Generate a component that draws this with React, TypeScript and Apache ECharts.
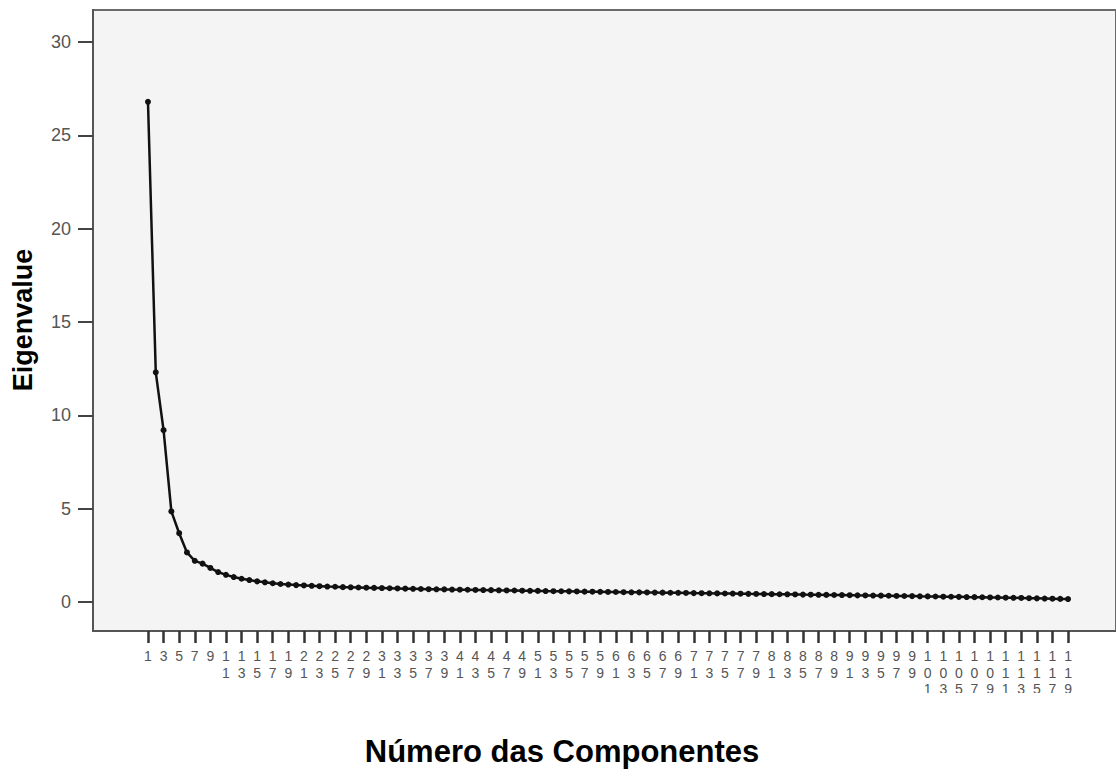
import React, { useEffect, useRef } from "react";
import * as echarts from "echarts";

const eigenvalues: number[] = [
  26.8, 12.3, 9.2, 4.85, 3.68, 2.65, 2.2, 2.05, 1.82, 1.6,
  1.45, 1.33, 1.24, 1.17, 1.1, 1.05, 1.0, 0.96, 0.93, 0.9,
  0.88, 0.86, 0.84, 0.82, 0.81, 0.79, 0.78, 0.77, 0.76, 0.75,
  0.74, 0.73, 0.72, 0.71, 0.7, 0.69, 0.68, 0.675, 0.67, 0.66,
  0.655, 0.65, 0.64, 0.635, 0.63, 0.62, 0.615, 0.61, 0.6, 0.595,
  0.59, 0.58, 0.575, 0.57, 0.565, 0.56, 0.55, 0.545, 0.54, 0.535,
  0.53, 0.52, 0.515, 0.51, 0.505, 0.5, 0.495, 0.49, 0.485, 0.48,
  0.47, 0.465, 0.46, 0.455, 0.45, 0.445, 0.44, 0.43, 0.425, 0.42,
  0.415, 0.41, 0.405, 0.4, 0.39, 0.385, 0.38, 0.375, 0.37, 0.365,
  0.36, 0.35, 0.345, 0.34, 0.335, 0.33, 0.32, 0.315, 0.31, 0.3,
  0.295, 0.29, 0.28, 0.275, 0.27, 0.26, 0.255, 0.25, 0.24, 0.235,
  0.225, 0.22, 0.21, 0.2, 0.19, 0.18, 0.17, 0.16, 0.15,
];

const components: number[] = eigenvalues.map((_, i) => i + 1);
const xTickValues: number[] = components.filter((c) => c % 2 === 1);
const yTickValues: number[] = [0, 5, 10, 15, 20, 25, 30];

const xTitle = "Número das Componentes";
const yTitle = "Eigenvalue";

export default function App() {
  const ref = useRef<HTMLDivElement>(null);
  useEffect(() => {
    if (!ref.current) return;
    const chart = echarts.init(ref.current, null, { renderer: "svg" });
    chart.setOption({
      animation: false,
      backgroundColor: "#ffffff",
      textStyle: { fontFamily: "Liberation Sans, Arial, sans-serif" },
      grid: {
        left: 93,
        top: 10,
        right: -3,
        bottom: 149,
        show: true,
        backgroundColor: "#f4f4f4",
        borderColor: "#6a6a6a",
        borderWidth: 2,
      },
      xAxis: {
        type: "value",
        min: -6.05,
        max: 125.15,
        axisLine: { show: true, onZero: false, lineStyle: { color: "#555555", width: 2 } },
        splitLine: { show: false },
        axisTick: {
          show: true,
          customValues: xTickValues,
          length: 12,
          lineStyle: { color: "#333333", width: 2.5 },
        },
        axisLabel: {
          customValues: xTickValues,
          margin: 17,
          fontSize: 14,
          color: "#555555",
          lineHeight: 16.5,
          verticalAlign: "top",
          formatter: (v: number) => String(v).split("").join("\n"),
        },
      },
      yAxis: {
        type: "value",
        min: -1.56,
        max: 31.72,
        axisLine: { show: true, onZero: false, lineStyle: { color: "#555555", width: 2 } },
        splitLine: { show: false },
        axisTick: {
          show: true,
          customValues: yTickValues,
          length: 15,
          lineStyle: { color: "#444444", width: 2 },
        },
        axisLabel: {
          customValues: yTickValues,
          margin: 22,
          fontSize: 18,
          color: "#555555",
        },
      },
      graphic: [
        {
          type: "rect",
          left: 0,
          top: 693,
          shape: { width: 1116, height: 30 },
          style: { fill: "#ffffff" },
          z: 100,
        },
        {
          type: "text",
          x: 562,
          y: 751,
          style: {
            text: xTitle,
            font: "bold 31px 'Liberation Sans', Arial, sans-serif",
            fill: "#000000",
            align: "center",
            verticalAlign: "middle",
          },
        },
        {
          type: "text",
          x: 23,
          y: 320,
          rotation: Math.PI / 2,
          style: {
            text: yTitle,
            font: "bold 27px 'Liberation Sans', Arial, sans-serif",
            fill: "#000000",
            align: "center",
            verticalAlign: "middle",
          },
        },
      ],
      series: [
        {
          type: "line",
          data: components.map((c, i) => [c, eigenvalues[i]]),
          symbol: "circle",
          symbolSize: 6,
          itemStyle: { color: "#111111" },
          lineStyle: { color: "#111111", width: 2.5 },
          clip: false,
        },
      ],
    });
    return () => chart.dispose();
  }, []);
  return (
    <div
      ref={ref}
      style={{ position: "fixed", left: 0, top: 0, width: 1116, height: 780 }}
    />
  );
}
